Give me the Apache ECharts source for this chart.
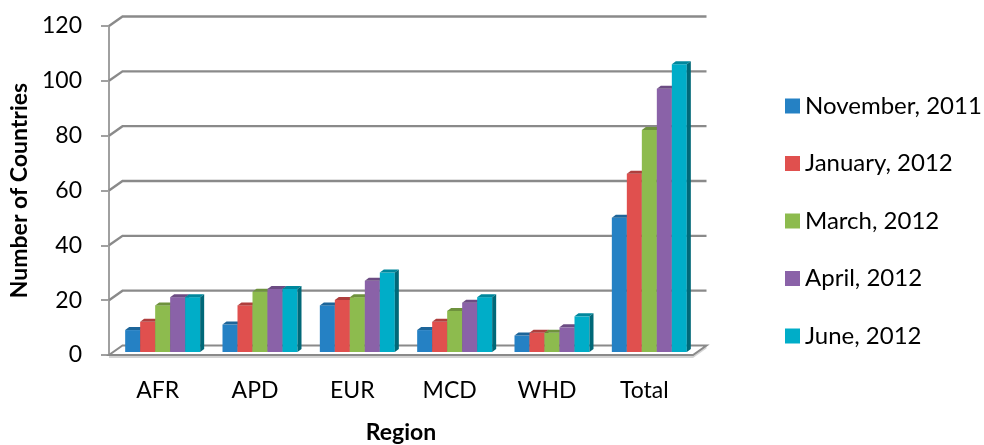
<!DOCTYPE html>
<html>
<head>
<meta charset="utf-8">
<script src="https://cdn.jsdelivr.net/npm/echarts@6/dist/echarts.min.js"></script>
<style>
  html, body { margin: 0; padding: 0; background: #ffffff; }
  #chart { width: 984px; height: 445px; }
</style>
</head>
<body>
<div id="chart"></div>
<script>
// Countries by region, per survey date
const regions = ['AFR', 'APD', 'EUR', 'MCD', 'WHD', 'Total'];
const seriesNames = ['November, 2011', 'January, 2012', 'March, 2012', 'April, 2012', 'June, 2012'];
const nov2011 = [8, 10, 17, 8, 6, 49];
const jan2012 = [11, 17, 19, 11, 7, 65];
const mar2012 = [17, 22, 20, 15, 7, 81];
const apr2012 = [20, 23, 26, 18, 9, 96];
const jun2012 = [20, 23, 29, 20, 13, 105];
const yTicks = [0, 20, 40, 60, 80, 100, 120];

const seriesValues = [nov2011, jan2012, mar2012, apr2012, jun2012];
const colors = ['#2581C4', '#E0504E', '#8DBB4E', '#8A62A8', '#00ADC8'];
const FONT = 'Lato, "Open Sans", sans-serif';

// Depth of the pseudo-3D box (back wall offset) and of each bar
const DX = 13.5, DY = 9.5;
const BAR_W = 15, BAR_DX = 4, BAR_DY = 3;
const BAR_SHIFT_X = 5, BAR_SHIFT_Y = -3;

function shade(hex, f) {
  const n = parseInt(hex.slice(1), 16);
  const r = Math.round(((n >> 16) & 255) * f);
  const g = Math.round(((n >> 8) & 255) * f);
  const b = Math.round((n & 255) * f);
  return 'rgb(' + r + ',' + g + ',' + b + ')';
}

// Walls, gridlines and floor of the box
function renderFrame(params, api) {
  const cs = params.coordSys;
  const v = api.value(0);
  const y = api.coord([0, v])[1];
  const x0 = cs.x, x1 = cs.x + cs.width;
  const grid = '#8A8A8A';
  const children = [];
  if (v === 0) {
    children.push({
      type: 'polygon',
      shape: { points: [[x0, y], [x1, y], [x1 + DX, y - DY], [x1 + DX, y - DY + 3], [x1, y + 3], [x0, y + 3]] },
      style: { fill: '#D4D4D4' }
    });
    children.push({
      type: 'polygon',
      shape: { points: [[x0, y], [x1, y], [x1 + DX, y - DY], [x0 + DX, y - DY]] },
      style: { fill: '#FFFFFF', stroke: grid, lineWidth: 2 }
    });
  } else {
    children.push({
      type: 'polyline',
      shape: { points: [[x0, y], [x0 + DX, y - DY], [x1 + DX, y - DY]] },
      style: { fill: null, stroke: grid, lineWidth: 2.4 }
    });
  }
  return { type: 'group', children: children };
}

function makeBarRenderer(k) {
  return function (params, api) {
    const i = api.value(0);
    const v = api.value(1);
    const c = api.coord([i, v]);
    const base = api.coord([i, 0]);
    const x = c[0] - (BAR_W * 5) / 2 + k * BAR_W + BAR_SHIFT_X;
    const yTop = c[1] + BAR_SHIFT_Y;
    const yBase = base[1] + BAR_SHIFT_Y;
    const col = colors[k];
    return {
      type: 'group',
      children: [
        {
          type: 'rect',
          shape: { x: x, y: yTop, width: BAR_W, height: yBase - yTop },
          style: { fill: col }
        },
        {
          type: 'polygon',
          shape: { points: [[x, yTop], [x + BAR_W, yTop], [x + BAR_W + BAR_DX, yTop - BAR_DY], [x + BAR_DX, yTop - BAR_DY]] },
          style: { fill: shade(col, 0.78) }
        },
        {
          type: 'polygon',
          shape: { points: [[x + BAR_W, yTop], [x + BAR_W + BAR_DX, yTop - BAR_DY], [x + BAR_W + BAR_DX, yBase - BAR_DY], [x + BAR_W, yBase]] },
          style: { fill: shade(col, 0.6) }
        }
      ]
    };
  };
}

const barSeries = seriesNames.map(function (name, k) {
  return {
    name: name,
    type: 'custom',
    renderItem: makeBarRenderer(k),
    itemStyle: { color: colors[k] },
    encode: { x: 0, y: 1 },
    data: seriesValues[k].map(function (v, i) { return [i, v]; }),
    z: 3
  };
});

const chart = echarts.init(document.getElementById('chart'), null, { renderer: 'canvas' });
chart.setOption({
  animation: false,
  backgroundColor: '#FFFFFF',
  grid: { left: 109, right: 291, top: 26, bottom: 90, containLabel: false, outerBoundsMode: 'none' },
  xAxis: {
    type: 'category',
    data: regions,
    axisLine: { show: false },
    axisTick: { show: false },
    axisLabel: { color: '#000', fontFamily: FONT, fontSize: 23, margin: 24 },
    name: 'Region',
    nameLocation: 'middle',
    nameGap: 66,
    nameTextStyle: { color: '#000', fontFamily: FONT, fontSize: 23, fontWeight: 'bold' }
  },
  yAxis: {
    type: 'value',
    min: 0,
    max: 120,
    interval: 20,
    axisLine: { show: true, lineStyle: { color: '#A0A0A0', width: 2 } },
    axisTick: { show: true, inside: false, length: 8, lineStyle: { color: '#A0A0A0', width: 2 } },
    axisLabel: { color: '#000', fontFamily: FONT, fontSize: 23, margin: 27 },
    splitLine: { show: false },
    name: 'Number of Countries',
    nameLocation: 'middle',
    nameRotate: 90,
    nameGap: 75,
    nameTextStyle: { color: '#000', fontFamily: FONT, fontSize: 23, fontWeight: 'bold' }
  },
  legend: {
    orient: 'vertical',
    left: 780,
    top: 89,
    itemWidth: 15,
    itemHeight: 15,
    itemGap: 33.5,
    icon: 'rect',
    textStyle: { color: '#000', fontFamily: FONT, fontSize: 24, lineHeight: 24 },
    data: seriesNames
  },
  series: [
    {
      name: 'frame',
      type: 'custom',
      renderItem: renderFrame,
      encode: { y: 0 },
      data: yTicks.map(function (v) { return [v]; }),
      silent: true,
      z: 1
    }
  ].concat(barSeries)
});
</script>
</body>
</html>
